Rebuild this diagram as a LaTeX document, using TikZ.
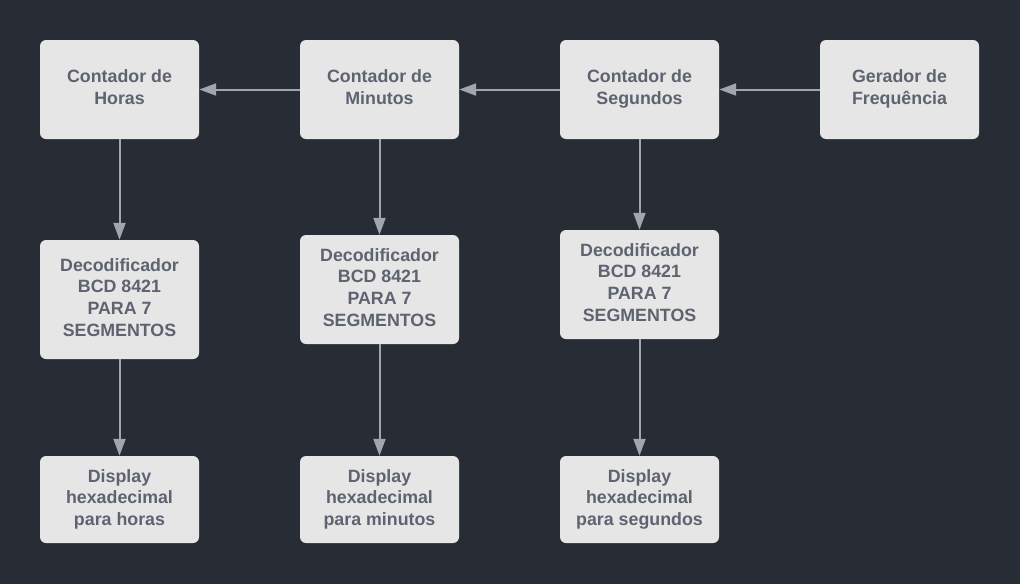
\documentclass[tikz,border=0pt]{standalone}
\usepackage{fontspec}
\setmainfont{Liberation Sans}
\usetikzlibrary{arrows.meta}
\definecolor{bg}{HTML}{282C34}
\definecolor{boxfill}{HTML}{E6E6E6}
\definecolor{boxtext}{HTML}{5E6370}
\definecolor{arrowc}{HTML}{A1A5AE}
\begin{document}
\begin{tikzpicture}[x=1pt,y=-1pt,
  blk/.style={fill=boxfill, rounded corners=6pt, minimum width=159pt, align=center,
    text=boxtext, font=\fontsize{17.8}{21.8}\selectfont\bfseries, inner sep=0pt},
  conn/.style={draw=arrowc, line width=2pt, -{Triangle[length=17pt,width=12pt]}}]
\fill[bg] (0,0) rectangle (1020,584);
\useasboundingbox (0,0) rectangle (1020,584);
% top row
\node[blk, minimum height=99pt] (ch) at (119.5,89.5) {Contador de\strut\\Horas\strut};
\node[blk, minimum height=99pt] (cm) at (379.5,89.5) {Contador de\strut\\Minutos\strut};
\node[blk, minimum height=99pt] (cs) at (639.5,89.5) {Contador de\strut\\Segundos\strut};
\node[blk, minimum height=99pt] (gf) at (899.5,89.5) {Gerador de\strut\\Frequência\strut};
% decoders
\node[blk, minimum height=119pt] (dh) at (119.5,299.5) {Decodificador\strut\\BCD 8421\strut\\PARA 7\strut\\SEGMENTOS\strut};
\node[blk, minimum height=109pt] (dm) at (379.5,289.5) {Decodificador\strut\\BCD 8421\strut\\PARA 7\strut\\SEGMENTOS\strut};
\node[blk, minimum height=109pt] (ds) at (639.5,284.5) {Decodificador\strut\\BCD 8421\strut\\PARA 7\strut\\SEGMENTOS\strut};
% displays
\node[blk, minimum height=87pt] (xh) at (119.5,499.5) {Display\strut\\hexadecimal\strut\\para horas\strut};
\node[blk, minimum height=87pt] (xm) at (379.5,499.5) {Display\strut\\hexadecimal\strut\\para minutos\strut};
\node[blk, minimum height=87pt] (xs) at (639.5,499.5) {Display\strut\\hexadecimal\strut\\para segundos\strut};
% connectors
\draw[conn] (gf) -- (cs);
\draw[conn] (cs) -- (cm);
\draw[conn] (cm) -- (ch);
\draw[conn] (ch) -- (dh);
\draw[conn] (cm) -- (dm);
\draw[conn] (cs) -- (ds);
\draw[conn] (dh) -- (xh);
\draw[conn] (dm) -- (xm);
\draw[conn] (ds) -- (xs);
\end{tikzpicture}
\end{document}
